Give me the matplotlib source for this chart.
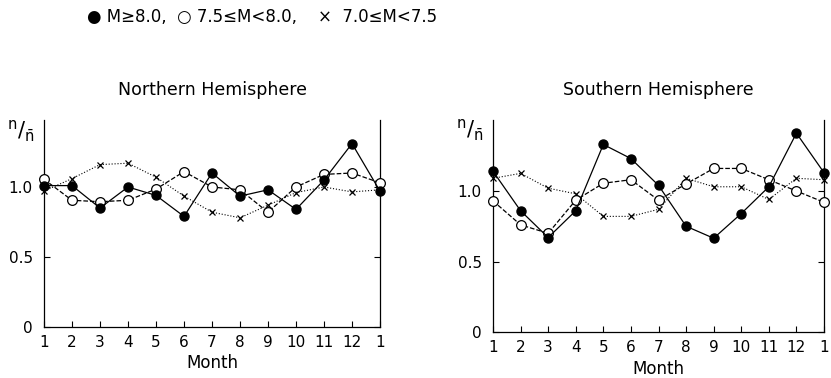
import matplotlib
matplotlib.use("Agg")
import matplotlib.pyplot as plt

months = list(range(1, 14))
month_labels = ["1", "2", "3", "4", "5", "6", "7", "8", "9", "10", "11", "12", "1"]

# Northern Hemisphere
north_big = [1.01, 1.01, 0.85, 1.00, 0.94, 0.79, 1.10, 0.935, 0.98, 0.84, 1.05, 1.31, 0.97]
north_mid = [1.055, 0.905, 0.895, 0.905, 0.985, 1.11, 1.00, 0.98, 0.82, 1.00, 1.09, 1.10, 1.03]
north_small = [0.97, 1.06, 1.16, 1.17, 1.07, 0.935, 0.82, 0.78, 0.87, 0.96, 1.00, 0.965, 0.98]

# Southern Hemisphere
south_big = [1.14, 0.86, 0.67, 0.86, 1.33, 1.23, 1.04, 0.75, 0.665, 0.84, 1.03, 1.41, 1.13]
south_mid = [0.93, 0.76, 0.70, 0.935, 1.055, 1.08, 0.935, 1.05, 1.16, 1.16, 1.08, 1.00, 0.92]
south_small = [1.09, 1.125, 1.02, 0.98, 0.82, 0.82, 0.87, 1.09, 1.03, 1.03, 0.94, 1.09, 1.08]

plt.rcParams['font.family'] = ['DejaVu Sans']

fig = plt.figure(figsize=(8.31, 3.78), dpi=100)
W, H = 831, 378


def make_axes(x0, x1, ytop, ybot):
    return fig.add_axes([x0 / W, 1 - ybot / H, (x1 - x0) / W, (ybot - ytop) / H])


def draw_panel(ax, big, mid, small, title, ytop_val):
    ax.plot(months, small, linestyle=':', color='k', lw=0.8, marker='x', ms=4,
            mew=0.9, zorder=2, clip_on=False)
    ax.plot(months, mid, linestyle='--', color='k', lw=0.9, marker='o', ms=7,
            mfc='white', mec='k', mew=0.9, zorder=3, clip_on=False)
    ax.plot(months, big, linestyle='-', color='k', lw=0.9, marker='o', ms=6.5,
            mfc='k', mec='k', zorder=4, clip_on=False)
    ax.set_xlim(1, 13)
    ax.set_ylim(0, ytop_val)
    ax.set_xticks(months)
    ax.set_xticklabels(month_labels, fontsize=11)
    ax.set_yticks([0, 0.5, 1.0])
    ax.set_yticklabels(["0", "0.5", "1.0"], fontsize=11)
    ax.tick_params(direction='in', length=4, width=0.8, pad=8, right=True)
    ax.tick_params(axis='x', pad=6)
    ax.spines['top'].set_visible(False)
    for s in ['left', 'right', 'bottom']:
        ax.spines[s].set_linewidth(0.9)
    ax.set_xlabel("Month", fontsize=12, labelpad=3)
    ax.set_title(title, fontsize=12.5, pad=18)
    ax.text(-0.07, 1.01, r'$^{\mathrm{n}}/_{\bar{\mathrm{n}}}$', transform=ax.transAxes,
            fontsize=15, ha='center', va='top')


ax1 = make_axes(44, 380, 120, 327)
draw_panel(ax1, north_big, north_mid, north_small, "Northern Hemisphere", 207 / 140)

ax2 = make_axes(493, 824, 120, 332)
draw_panel(ax2, south_big, south_mid, south_small, "Southern Hemisphere", 212 / 141)

fig.text(87 / W, 1 - 17 / H,
         "\u25CF M\u22658.0,  \u25CB 7.5\u2264M<8.0,    \u00D7  7.0\u2264M<7.5",
         fontsize=12, ha='left', va='center')

fig.savefig("out.png", dpi=100)
